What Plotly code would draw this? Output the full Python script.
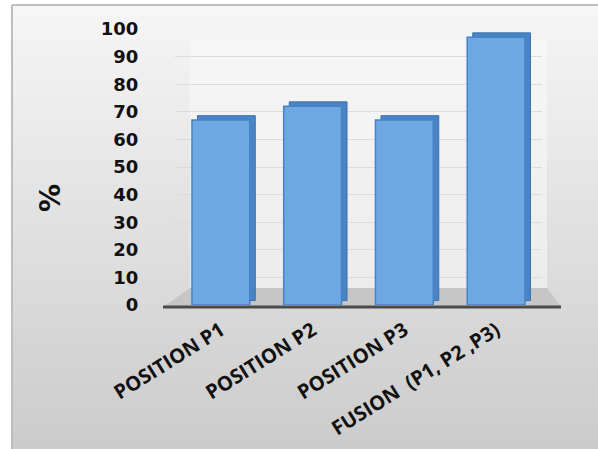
import plotly.graph_objects as go

categories = ["POSITION P1", "POSITION P2", "POSITION P3", "FUSION  (P1, P2 ,P3)"]
values = [67, 72, 67, 97]
y_ticks = [0, 10, 20, 30, 40, 50, 60, 70, 80, 90, 100]

W, H = 598, 449
L, R, T, B = 175, 56, 29, 144
pw, ph = W - L - R, H - T - B

def px_x(px):
    return (px - L) / pw

def px_y(py):
    return (H - B - py) / ph

fig = go.Figure()

# depth (side / top face) of the bars
fig.add_trace(go.Bar(
    x=categories, y=values, base=1.6, width=0.63, offset=-0.255,
    marker=dict(color="#4a84c4", line=dict(color="#3c71ad", width=1)),
    hoverinfo="skip", showlegend=False,
))
# front face
fig.add_trace(go.Bar(
    x=categories, y=values, width=0.63, offset=-0.315,
    marker=dict(color="#6ea8e2", line=dict(color="#4683c6", width=1.5)),
    showlegend=False,
))

shapes = []
# background gradient inside the frame
n = 40
top, bot = 5, H
for i in range(n):
    y0 = top + (bot - top) * i / n
    y1 = top + (bot - top) * (i + 1) / n + 0.6
    t = i / (n - 1)
    c = int(246 - (246 - 204) * t)
    shapes.append(dict(type="rect", xref="paper", yref="paper",
                       x0=px_x(12), x1=px_x(W + 2), y0=px_y(y1), y1=px_y(y0),
                       fillcolor=f"rgb({c},{c},{c})", line=dict(width=0), layer="below"))
# frame border (top and left)
shapes.append(dict(type="line", xref="paper", yref="paper",
                   x0=px_x(12), x1=px_x(W + 2), y0=px_y(5), y1=px_y(5),
                   line=dict(color="#bdbdbd", width=2), layer="below"))
shapes.append(dict(type="line", xref="paper", yref="paper",
                   x0=px_x(12), x1=px_x(12), y0=px_y(5), y1=px_y(H + 2),
                   line=dict(color="#bdbdbd", width=2), layer="below"))
# back wall (light)
shapes.append(dict(type="rect", xref="paper", yref="paper",
                   x0=px_x(190), x1=px_x(547), y0=px_y(288), y1=px_y(40),
                   fillcolor="rgba(250,250,250,0.55)", line=dict(width=0), layer="below"))
# floor
fx0, fx1, bx0, bx1 = px_x(163), px_x(561), px_x(190), px_x(547)
fy, by = px_y(307), px_y(288)
shapes.append(dict(type="path", xref="paper", yref="paper",
                   path=f"M {fx0},{fy} L {fx1},{fy} L {bx1},{by} L {bx0},{by} Z",
                   fillcolor="#c6c6c6", line=dict(width=0), layer="below"))
shapes.append(dict(type="line", xref="paper", yref="paper",
                   x0=fx0, x1=fx1, y0=fy, y1=fy,
                   line=dict(color="#4a4a4a", width=3), layer="below"))

fig.update_layout(
    width=W, height=H,
    margin=dict(l=L, r=R, t=T, b=B, pad=0),
    paper_bgcolor="white", plot_bgcolor="rgba(0,0,0,0)",
    barmode="overlay",
    shapes=shapes,
    xaxis=dict(
        type="category", range=[-0.5, 3.5], showgrid=False, zeroline=False,
        showline=False, ticks="outside", ticklen=5, tickcolor="rgba(0,0,0,0)",
        tickangle=-32, automargin=False,
        tickfont=dict(family="Open Sans", size=20, color="#111111", weight="bold"),
    ),
    yaxis=dict(
        range=[0, 100], tickvals=y_ticks, showgrid=True, gridcolor="#dcdcdc",
        gridwidth=1, zeroline=False, showline=False, automargin=False,
        ticks="outside", ticklen=32, tickcolor="rgba(0,0,0,0)",
        tickfont=dict(family="DejaVu Sans", size=18, color="#111111", weight="bold"),
    ),
    annotations=[dict(
        text="%", xref="paper", yref="paper", x=px_x(50), y=px_y(198),
        xanchor="center", yanchor="middle",
        showarrow=False, textangle=-90,
        font=dict(family="DejaVu Sans", size=28, color="#111111", weight="bold"),
    )],
)

fig.write_html("out.html")
